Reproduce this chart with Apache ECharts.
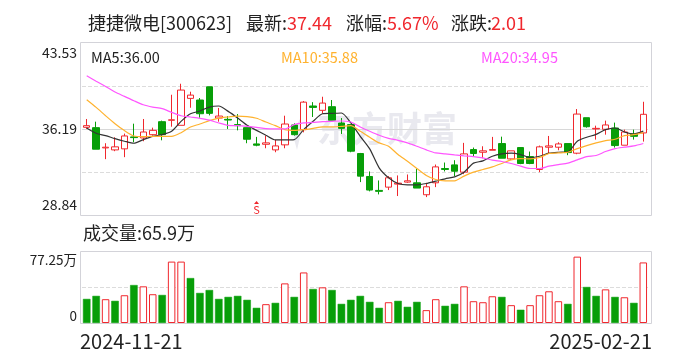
<!DOCTYPE html>
<html><head><meta charset="utf-8">
<style>html,body{margin:0;padding:0;background:#fff}#c{width:688px;height:360px}</style>
<script src="https://cdn.jsdelivr.net/npm/echarts@6/dist/echarts.min.js"></script>
</head><body><div id="c"></div>
<script>
const dates=['2024-11-21','2024-11-22','2024-11-25','2024-11-26','2024-11-27','2024-11-28','2024-11-29','2024-12-02','2024-12-03','2024-12-04','2024-12-05','2024-12-06','2024-12-09','2024-12-10','2024-12-11','2024-12-12','2024-12-13','2024-12-16','2024-12-17','2024-12-18','2024-12-19','2024-12-20','2024-12-23','2024-12-24','2024-12-25','2024-12-26','2024-12-27','2024-12-30','2024-12-31','2025-01-02','2025-01-03','2025-01-06','2025-01-07','2025-01-08','2025-01-09','2025-01-10','2025-01-13','2025-01-14','2025-01-15','2025-01-16','2025-01-17','2025-01-20','2025-01-21','2025-01-22','2025-01-23','2025-01-24','2025-01-27','2025-02-05','2025-02-06','2025-02-07','2025-02-10','2025-02-11','2025-02-12','2025-02-13','2025-02-14','2025-02-17','2025-02-18','2025-02-19','2025-02-20','2025-02-21'];
// [open, close, low, high]
const candles=[[36.33,36.47,36.19,37.04],[36.30,34.46,34.46,36.81],[34.57,34.63,33.61,34.97],[34.40,34.66,34.29,35.48],[34.49,35.59,33.78,35.79],[35.51,35.45,35.05,36.64],[35.42,35.93,35.14,37.04],[35.70,36.07,35.62,36.30],[36.81,35.70,35.22,36.90],[36.93,36.97,36.38,39.11],[36.50,39.51,36.50,40.05],[38.80,39.08,38.00,39.37],[38.66,37.49,37.15,38.83],[39.79,37.52,37.35,39.79],[37.12,37.29,36.81,37.98],[37.01,36.95,36.19,37.29],[36.56,36.47,36.07,37.46],[36.30,35.31,34.97,36.30],[34.91,34.80,34.71,35.51],[34.88,35.00,34.54,35.62],[34.40,34.74,34.20,35.25],[34.83,36.61,34.54,37.32],[36.53,35.70,35.62,36.67],[36.13,38.48,35.90,38.57],[38.15,38.03,37.21,38.48],[37.78,38.40,37.49,38.94],[38.09,36.93,36.93,38.66],[36.70,36.24,35.76,37.12],[36.56,34.29,34.20,36.56],[34.09,32.16,31.65,34.14],[32.13,30.97,30.86,32.56],[30.94,30.86,30.60,31.79],[31.22,32.02,30.97,32.16],[31.48,31.56,30.46,32.22],[31.65,31.76,31.59,32.30],[31.59,31.14,31.14,32.78],[30.57,31.25,30.37,31.59],[31.59,32.95,31.22,33.15],[32.81,32.73,32.56,33.32],[33.12,32.58,32.16,33.52],[32.50,34.06,32.33,35.00],[34.43,34.09,33.86,34.60],[34.20,34.32,33.69,34.71],[34.37,34.43,34.37,35.51],[34.94,33.69,33.69,35.53],[33.63,34.32,33.55,34.32],[34.60,33.24,33.18,34.60],[33.83,33.24,33.18,34.26],[32.73,34.66,32.50,34.77],[34.63,34.74,34.06,35.59],[34.63,34.91,34.37,35.05],[34.94,34.17,33.95,34.94],[34.12,37.46,34.03,37.89],[37.15,36.38,36.30,37.15],[36.19,36.24,35.28,36.47],[36.16,36.53,35.70,36.90],[36.27,34.77,34.60,36.73],[34.80,35.93,34.80,36.13],[35.76,35.56,35.28,36.13],[35.85,37.44,35.11,38.51]];
const ma5=[36.27,35.82,35.62,35.36,35.14,34.97,35.28,35.56,35.70,35.99,36.84,37.49,37.72,38.06,38.15,37.69,37.12,36.50,36.07,35.65,35.25,35.25,35.28,36.13,36.84,37.49,37.52,37.55,36.70,35.56,34.49,32.87,32.02,31.53,31.42,31.42,31.53,31.73,31.93,32.10,32.50,33.27,33.46,33.86,34.06,34.12,34.00,33.75,33.86,34.12,34.20,34.23,35.14,35.48,35.73,36.13,36.27,35.93,35.76,36.00];
const ma10=[38.68,38.03,37.32,36.64,36.05,35.59,35.53,35.56,35.56,35.56,35.87,36.36,36.61,36.90,37.12,37.21,37.29,37.24,37.10,36.78,36.47,36.13,36.07,36.13,36.24,36.36,36.36,36.41,36.47,35.99,35.48,35.00,34.71,34.00,33.43,32.81,32.22,31.87,31.76,31.76,32.16,32.50,32.73,32.95,33.24,33.55,33.66,33.63,33.75,34.09,34.14,34.20,34.51,34.77,35.00,35.19,35.31,35.62,35.70,35.88];
const ma20=[40.73,40.27,39.82,39.34,38.97,38.60,38.26,38.06,37.92,37.61,37.32,37.21,37.10,36.95,36.70,36.50,36.47,36.41,36.33,36.22,36.19,36.19,36.56,36.70,36.75,36.81,36.84,36.87,36.78,36.36,35.99,35.65,35.39,35.22,35.00,34.71,34.40,34.14,34.06,33.97,33.89,33.83,33.72,33.52,33.41,33.24,33.01,32.81,32.81,33.01,33.15,33.27,33.55,33.83,33.92,34.26,34.51,34.63,34.74,34.95];
const volumes=[26.2,29.5,25.9,24.1,30.2,41.3,39.9,31.3,30.5,66.8,66.8,48.9,32.7,35.9,26.2,28.4,29.5,25.2,16.5,20.5,21.9,43.1,28.4,55.0,37.0,38.8,35.9,20.8,25.2,29.5,23.0,16.5,22.6,24.1,17.6,23.0,14.0,25.9,18.7,20.8,39.9,23.7,22.6,29.1,28.4,19.4,14.4,19.4,30.2,34.5,23.7,20.8,72.2,39.2,29.5,36.6,28.4,28.0,21.9,65.9];
const volumeUp=[0,0,1,0,1,0,1,1,0,1,1,0,0,0,0,0,0,0,0,1,0,1,0,1,0,1,0,0,0,0,0,0,1,0,0,0,1,1,0,0,1,1,1,1,0,1,0,1,1,1,1,0,1,0,0,1,0,1,0,1];
const priceTicks=[28.84,36.19,43.53];
const priceGuides=[32.51,39.86];
const volumeTicks=[0,77.25];
const volumeGuide=38.62;
const sellSignalIndex=18;
const sellSignalPrice=29.3;

const RED='#f0272d',GREEN='#079e08',FONT='"Noto Sans CJK SC","Noto Sans",sans-serif';
const chart=echarts.init(document.getElementById('c'),null,{renderer:'canvas'});
const t=(x,y,text,fill,size,extra)=>({type:'text',x,y,silent:true,z:10,style:Object.assign({text,fill,font:`${size}px ${FONT}`,textVerticalAlign:'middle'},extra||{})});
const frame=(x,y,w,h)=>({type:'rect',silent:true,z:0,shape:{x,y,width:w,height:h},style:{fill:'none',stroke:'#d3d3d9',lineWidth:1}});
const guide=(v,type)=>({yAxis:v,lineStyle:{type,color:type==='solid'?'#d8d8d8':'#dcdcdc',width:1}});
const lineS=(name,data,color)=>({name,type:'line',data,xAxisIndex:0,yAxisIndex:0,symbol:'none',smooth:0.25,lineStyle:{color,width:1.2},z:5,silent:true});
chart.setOption({
 animation:false,backgroundColor:'#fff',
 grid:[{left:82,top:43,width:566,height:172},{left:82,top:252,width:566,height:71}],
 xAxis:[0,1].map(i=>({type:'category',gridIndex:i,data:dates,boundaryGap:true,axisLine:{show:false},axisTick:{show:false},axisLabel:{show:false},splitLine:{show:false}})),
 yAxis:[
  {type:'value',gridIndex:0,min:priceTicks[0],max:priceTicks[2],splitLine:{show:false},axisLine:{show:false},axisTick:{show:false},
   axisLabel:{customValues:priceTicks,formatter:v=>v.toFixed(2),color:'#222',fontSize:14,fontFamily:FONT,margin:5,padding:[3,0,3,0],verticalAlignMinLabel:'bottom',verticalAlignMaxLabel:'top'}},
  {type:'value',gridIndex:1,min:volumeTicks[0],max:volumeTicks[1],splitLine:{show:false},axisLine:{show:false},axisTick:{show:false},
   axisLabel:{customValues:volumeTicks,formatter:v=>v===0?'0':v.toFixed(2)+'万',color:'#222',fontSize:13.5,fontFamily:FONT,margin:5,padding:[1,0,0,0],verticalAlignMinLabel:'bottom',verticalAlignMaxLabel:'top'}}
 ],
 series:[
  {type:'candlestick',name:'K',xAxisIndex:0,yAxisIndex:0,data:candles,barWidth:7,z:3,silent:true,
   itemStyle:{color:'#fff',color0:GREEN,borderColor:RED,borderColor0:GREEN,borderWidth:1},
   markLine:{silent:true,symbol:'none',label:{show:false},z:1,data:[guide(priceTicks[1],'solid'),guide(priceGuides[0],'dashed'),guide(priceGuides[1],'dashed')]},
   markPoint:{silent:true,z:6,data:[{coord:[dates[sellSignalIndex],sellSignalPrice],symbol:'triangle',symbolSize:[5,3],symbolOffset:[0,-7],itemStyle:{color:RED},
     label:{show:true,formatter:'S',position:'inside',offset:[0,7],color:RED,fontSize:11,fontFamily:FONT}}]}},
  lineS('MA5',ma5,'#333'),lineS('MA10',ma10,'#ffb22e'),lineS('MA20',ma20,'#ff55ff'),
  {type:'bar',name:'VOL',xAxisIndex:1,yAxisIndex:1,barWidth:7.5,silent:true,
   data:volumes.map((v,i)=>({value:v,itemStyle:volumeUp[i]?{color:'#fff',borderColor:RED,borderWidth:1}:{color:GREEN,borderColor:GREEN,borderWidth:0.5}})),
   markLine:{silent:true,symbol:'none',label:{show:false},z:0,data:[guide(volumeGuide,'dashed')]}}
 ],
 graphic:[
  frame(80.5,42.5,571,173),frame(80.5,251.5,571,72),
  {type:'polygon',silent:true,z:-1,shape:{points:[[307,113],[300,119],[295,128],[294,139],[297,150],[300,137],[303,124]]},style:{fill:'#e9e9ef'}},
  {type:'text',x:317,y:129,silent:true,z:-1,style:{text:'东方财富',fill:'#e9e9ef',font:`bold 35px ${FONT}`,textVerticalAlign:'middle'}},
  t(88,23,'捷捷微电[300623]','#222',18),
  t(246,23,'最新:','#222',18),t(287,23,'37.44',RED,18),
  t(346,23,'涨幅:','#222',18),t(387,23,'5.67%',RED,18),
  t(451,23,'涨跌:','#222',18),t(491,23,'2.01',RED,18),
  t(91,57,'MA5:36.00','#222',14.5),t(281,57,'MA10:35.88','#ffb22e',14.5),t(481,57,'MA20:34.95','#ff55ff',14.5),
  t(83,233,'成交量:65.9万','#222',18),
  t(80,341,dates[0],'#222',20),
  t(652,341,dates[dates.length-1],'#222',20,{textAlign:'right'})
 ]
});
</script></body></html>
